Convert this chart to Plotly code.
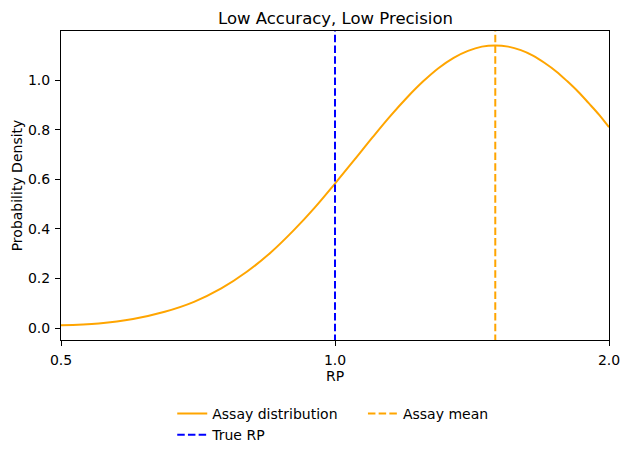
import plotly.graph_objects as go

# RP values and density
rp = [0.5, 0.55, 0.6, 0.65, 0.7, 0.75, 0.8, 0.85, 0.9, 0.95, 1.0,
      1.05, 1.1, 1.15, 1.2, 1.25, 1.3, 1.35, 1.4, 1.45, 1.5,
      1.55, 1.6, 1.65, 1.7, 1.75, 1.8, 1.85, 1.9, 1.95, 2.0]
density = [0.011, 0.019, 0.037, 0.066, 0.106, 0.160, 0.227, 0.305, 0.393, 0.486, 0.583,
           0.678, 0.770, 0.855, 0.930, 0.995, 1.049, 1.090, 1.118, 1.135, 1.140,
           1.135, 1.121, 1.099, 1.069, 1.035, 0.995, 0.953, 0.907, 0.861, 0.810]

true_rp = 1.0
assay_mean = 1.5
y_lo, y_hi = -0.048, 1.198

orange = "#FFA500"
blue = "#0000FF"
dash = "7.5px,3.2px"

fig = go.Figure()
fig.add_trace(go.Scatter(x=rp, y=density, mode="lines", name="Assay distribution",
                         line=dict(color=orange, width=2, shape="spline"), legend="legend"))
fig.add_trace(go.Scatter(x=[true_rp, true_rp], y=[y_lo - 1, y_hi + 1], mode="lines", name="True RP",
                         line=dict(color=blue, width=2, dash=dash), legend="legend"))
fig.add_trace(go.Scatter(x=[assay_mean, assay_mean], y=[y_lo - 1, y_hi + 1], mode="lines", name="Assay mean",
                         line=dict(color=orange, width=2, dash=dash), legend="legend2"))

axis_common = dict(showline=True, linecolor="black", linewidth=1, mirror=True,
                   showgrid=False, zeroline=False, ticks="outside", ticklen=5,
                   tickcolor="black", ticklabelstandoff=2, automargin=False,
                   tickfont=dict(size=14, color="black"))

fig.update_xaxes(type="log", range=[-0.30103, 0.30103], tickvals=[0.5, 1.0, 2.0],
                 ticktext=["0.5", "1.0", "2.0"],
                 title=dict(text="RP", font=dict(size=14, color="black"), standoff=3),
                 **axis_common)
fig.update_yaxes(range=[y_lo, y_hi], tickvals=[0, 0.2, 0.4, 0.6, 0.8, 1.0],
                 tickformat=".1f",
                 title=dict(text="Probability Density", font=dict(size=14, color="black"), standoff=2),
                 **axis_common)

# legends sit below the axes, anchored to the page so they do not squeeze the plot
legend_common = dict(orientation="v", xanchor="left", yanchor="top",
                     xref="paper", yref="container", y=0.1335,
                     bgcolor="rgba(0,0,0,0)", font=dict(size=14, color="black"),
                     tracegroupgap=0, itemwidth=30)

# the page body adds an 8px offset, so the figure is drawn 8px smaller
fig.update_layout(
    width=622, height=450,
    margin=dict(l=53, r=21, t=23, b=118),
    paper_bgcolor="white", plot_bgcolor="white",
    font=dict(family="DejaVu Sans", color="black"),
    title=dict(text="Low Accuracy, Low Precision", x=0.5265, xanchor="center",
               y=0.978, yanchor="middle", font=dict(size=16.5, color="black")),
    legend=dict(x=0.203, **legend_common),
    legend2=dict(x=0.551, **legend_common),
)

fig.write_html("out.html")
